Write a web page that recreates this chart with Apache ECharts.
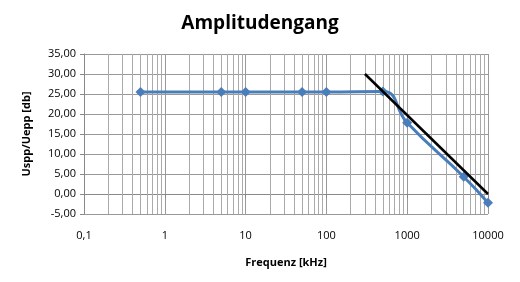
<!DOCTYPE html>
<html>
<head>
<meta charset="utf-8">
<script src="https://cdn.jsdelivr.net/npm/echarts@6/dist/echarts.min.js"></script>
<style>html,body{margin:0;padding:0;background:#fff}#c{width:520px;height:282px}</style>
</head>
<body>
<div id="c"></div>
<script>
var freqs = [0.5, 5, 10, 50, 100, 500, 1000, 5000, 10000];
var gain = [25.5, 25.5, 25.5, 25.5, 25.5, 25.6, 17.8, 4.3, -2.2];
var asymFreqs = [300, 10000];
var asymGain = [30, 0];
var minorGrid = [0.2,0.3,0.4,0.5,0.6,0.7,0.8,0.9,2,3,4,5,6,7,8,9,20,30,40,50,60,70,80,90,200,300,400,500,600,700,800,900,2000,3000,4000,5000,6000,7000,8000,9000];

var chart = echarts.init(document.getElementById('c'));
var font = 'Open Sans';
chart.setOption({
  animation: false,
  title: {
    text: 'Amplitudengang', left: 'center', top: 9,
    textStyle: {fontFamily: font, fontWeight: 'bold', fontSize: 19, color: '#000'}
  },
  grid: {left: 84, right: 32, top: 54, bottom: 68},
  xAxis: {
    type: 'log', logBase: 10, min: 0.1, max: 10000,
    name: 'Frequenz [kHz]', nameLocation: 'middle', nameGap: 43,
    nameTextStyle: {fontFamily: font, fontWeight: 'bold', fontSize: 11, color: '#000'},
    axisLine: {lineStyle: {color: '#888'}},
    axisTick: {show: true, length: 4, lineStyle: {color: '#888'}},
    axisLabel: {fontFamily: font, fontSize: 11, color: '#000', margin: 16,
      formatter: function (v) { return String(v).replace('.', ','); }},
    splitLine: {show: true, lineStyle: {color: '#999', width: 1}}
  },
  yAxis: {
    type: 'value', min: -5, max: 35, interval: 5,
    name: 'Uspp/Uepp [db]', nameLocation: 'middle', nameGap: 52,
    nameTextStyle: {fontFamily: font, fontWeight: 'bold', fontSize: 11, color: '#000'},
    axisLine: {show: true, lineStyle: {color: '#888'}},
    axisTick: {show: true, length: 4, lineStyle: {color: '#888'}},
    axisLabel: {fontFamily: font, fontSize: 11, color: '#000', margin: 8,
      formatter: function (v) { return v.toFixed(2).replace('.', ','); }},
    splitLine: {show: true, lineStyle: {color: '#999', width: 1}}
  },
  series: [
    {
      type: 'line', data: [], z: 1, silent: true,
      markLine: {
        silent: true, symbol: 'none', animation: false, z: 1,
        label: {show: false},
        lineStyle: {color: '#aaa', width: 1, type: 'solid'},
        data: minorGrid.map(function (f) { return {xAxis: f}; })
      }
    },
    {
      type: 'line', z: 3,
      data: freqs.map(function (f, i) { return [f, gain[i]]; }),
      smooth: 0.5,
      symbol: 'diamond', symbolSize: 10,
      lineStyle: {color: '#4a7ebb', width: 3},
      itemStyle: {color: '#4a7ebb'}
    },
    {
      type: 'line', z: 4,
      data: asymFreqs.map(function (f, i) { return [f, asymGain[i]]; }),
      symbol: 'none',
      lineStyle: {color: '#000', width: 2.5}
    }
  ]
});
</script>
</body>
</html>
